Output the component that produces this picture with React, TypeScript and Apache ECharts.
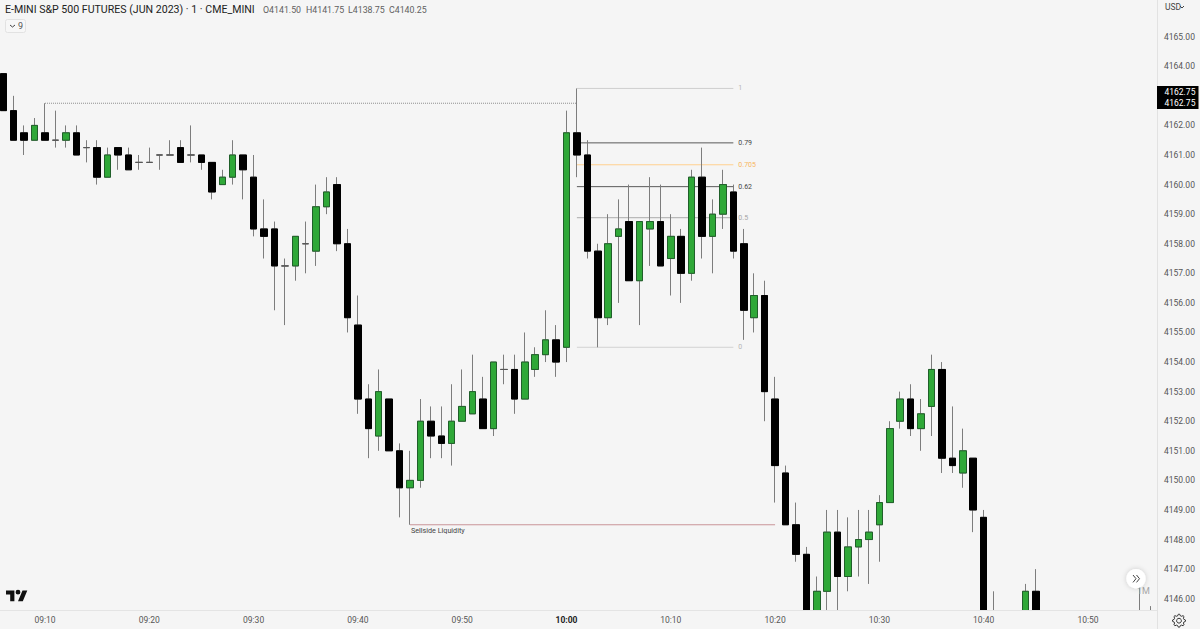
import React, { useEffect, useRef } from "react";
import * as echarts from "echarts";

const FONT = "Roboto";
const titleText = "E-MINI S&P 500 FUTURES (JUN 2023) · 1 · CME_MINI";
const ohlcLabels = ["O4141.50", "H4141.75", "L4138.75", "C4140.25"];
const ohlcX = [263, 306, 348, 389];

// minutes after 09:10
const minutes = [
  -4, -3, -2, -1, 0, 1, 2, 3, 4, 5, 6, 7, 8, 9, 10, 11, 12, 13, 14, 15, 16, 17, 18, 19,
  20, 21, 22, 23, 24, 25, 26, 27, 28, 29, 30, 31, 32, 33, 34, 35, 36, 37, 38, 39,
  40, 41, 42, 43, 44, 45, 46, 47, 48, 49, 50, 51, 52, 53, 54, 55, 56, 57, 58, 59,
  60, 61, 62, 63, 64, 65, 66, 67, 68, 69, 70, 71, 72, 73, 74, 75, 76, 77, 78, 79,
  80, 81, 82, 83, 84, 85, 86, 87, 88, 89, 90, 91, 94, 95, 105, 106,
];
const opens = [
  4163.75, 4162.5, 4161.75, 4161.5, 4161.75, 4161.5, 4161.5, 4161.75, 4161.25, 4161.25, 4160.25, 4161.25, 4161, 4160.75, 4160.75, 4161, 4161, 4161.25, 4161, 4161, 4160.75, 4160, 4160.25, 4161,
  4160.25, 4158.5, 4158.5, 4157.25, 4157.25, 4158, 4157.75, 4159.25, 4160, 4158, 4155.25, 4152.75, 4151.5, 4152.75, 4151, 4149.75, 4150, 4152, 4151.5, 4151.25,
  4152, 4152.25, 4152.75, 4151.75, 4153.75, 4153.75, 4152.75, 4153.75, 4154.25, 4154.75, 4154.5, 4161.75, 4161, 4157.75, 4155.5, 4158.25, 4158.75, 4156.75, 4158.5, 4158.75,
  4157.5, 4158.25, 4157, 4160.25, 4158.25, 4159, 4159.75, 4158, 4155.5, 4156.25, 4152.75, 4150.25, 4148.5, 4147.5, 4145.25, 4146.25, 4148.25, 4146.75, 4147.75, 4148,
  4148.5, 4149.25, 4152, 4152.75, 4151.75, 4152.5, 4153.75, 4150.75, 4150.25, 4150.75, 4148.75, 4145.5, 4145, 4146.25, 4145.25, 4145.25,
];
const closes = [
  4162.5, 4161.5, 4161.5, 4162, 4161.5, 4161.5, 4161.75, 4161, 4161.25, 4160.25, 4161, 4161, 4160.5, 4160.75, 4160.75, 4161, 4161, 4160.75, 4161, 4160.75, 4159.75, 4160.25, 4161, 4160.5,
  4158.5, 4158.25, 4157.25, 4157.25, 4158.25, 4158, 4159.25, 4159.75, 4158, 4155.5, 4152.75, 4151.75, 4153, 4151, 4149.75, 4150, 4152, 4151.5, 4151.25, 4152,
  4152.5, 4153, 4151.75, 4154, 4153.75, 4152.75, 4154, 4154.25, 4154.75, 4154, 4161.75, 4161, 4157.75, 4155.5, 4158, 4158.5, 4156.75, 4158.75, 4158.75, 4157.25,
  4158.25, 4157, 4160.25, 4158.25, 4159, 4160, 4157.75, 4155.75, 4156.25, 4153, 4150.5, 4148.5, 4147.5, 4145, 4146.25, 4148.25, 4146.75, 4147.75, 4148, 4148.25,
  4149.25, 4151.75, 4152.75, 4151.75, 4152.25, 4153.75, 4150.75, 4150.5, 4151, 4149, 4145, 4145.25, 4146.25, 4145, 4145.25, 4145.25,
];
const lows = [
  4162.5, 4161.5, 4161, 4161.5, 4161.5, 4161.25, 4161.25, 4161, 4160.75, 4160, 4160.25, 4160.5, 4160.5, 4160.5, 4160.75, 4160.5, 4161, 4160.75, 4160.75, 4160.5, 4159.5, 4160, 4160, 4159.5,
  4158.25, 4157.5, 4155.75, 4155.25, 4156.75, 4157, 4157.25, 4159, 4157.75, 4155, 4152.25, 4150.75, 4151, 4151, 4148.75, 4148.5, 4149.75, 4150.75, 4150.75, 4150.5,
  4152, 4152.25, 4151.75, 4151.5, 4153.25, 4152.25, 4152.75, 4153.5, 4154, 4153.5, 4154, 4160.25, 4157.5, 4154.5, 4155.25, 4156, 4156.75, 4155.25, 4157.25, 4157.25,
  4156.25, 4156, 4156.75, 4157.5, 4157, 4158.5, 4157.5, 4154.75, 4155, 4152, 4149.25, 4148.5, 4147.25, 4145, 4145, 4145.5, 4145.5, 4146.25, 4146.75, 4146.5,
  4147.25, 4149.25, 4151.75, 4151.5, 4151, 4151.5, 4150.25, 4150.25, 4149.75, 4148.25, 4145, 4145, 4145, 4145, 4145, 4145,
];
const highs = [
  4163.75, 4163, 4162, 4162.25, 4162.75, 4162.5, 4162, 4162, 4161.5, 4161.5, 4161.25, 4161.25, 4161.25, 4161, 4161.25, 4161, 4161.5, 4161.5, 4162, 4161, 4160.75, 4160.5, 4161.5, 4161,
  4161, 4159.5, 4158.75, 4157.5, 4158.25, 4158.75, 4160, 4160.25, 4160.25, 4158.5, 4156.25, 4153.25, 4153.75, 4152.75, 4151.25, 4151, 4152.75, 4152.5, 4152.5, 4153.25,
  4153.75, 4154.25, 4153.5, 4154, 4154.25, 4154.25, 4155, 4154.5, 4155.75, 4155.25, 4162.5, 4163.25, 4161.5, 4158, 4159, 4159.5, 4160, 4158.75, 4160.25, 4160,
  4159, 4158.5, 4160.5, 4161.25, 4159.5, 4160.5, 4160, 4158.5, 4157, 4156.75, 4153.5, 4150.5, 4149.25, 4147.75, 4146.75, 4149, 4149, 4148.75, 4149, 4149,
  4149.5, 4152, 4153, 4153.25, 4152.75, 4154.25, 4154, 4152.5, 4151.75, 4150.75, 4149, 4146.25, 4146.5, 4147, 4146.5, 4145.75,
];

const priceMin = 4145.618;
const priceMax = 4166.24;
const priceTicks = [4146, 4147, 4148, 4149, 4150, 4151, 4152, 4153, 4154, 4155, 4156, 4157, 4158, 4159, 4160, 4161, 4162, 4164, 4165];
const timeTicks = [0, 10, 20, 30, 40, 50, 60, 70, 80, 90, 100];
const timeLabels = ["09:10", "09:20", "09:30", "09:40", "09:50", "10:00", "10:10", "10:20", "10:30", "10:40", "10:50"];

const fibLevels = ["1", "0.79", "0.705", "0.62", "0.5", "0"];
const fibPrices = [4163.25, 4161.41, 4160.67, 4159.93, 4158.88, 4154.5];
const fibColors = ["#cfcfcf", "#5a5a5a", "#ffd08f", "#5a5a5a", "#ababab", "#d2d2d2"];
const fibLabelColors = ["#b5b5b5", "#444444", "#f7b660", "#444444", "#a5a5a5", "#b5b5b5"];
const fibStart = 51;
const fibEnd = 66;

const highLine = [[0, 4162.75], [51, 4162.75]];
const sellsideLine = [[35, 4148.5], [70, 4148.5]];

echarts.graphic.registerShape(
  "tvLogo",
  echarts.graphic.extendPath("M14 22H7V11H0V4h14v18zM28 22h-8l7.5-18h8L28 22zM20 3a4 4 0 1 1 0 8 4 4 0 0 1 0-8z", {})
);

const gearPoints = (cx: number, cy: number) => {
  const pts: number[][] = [];
  for (let i = 0; i < 32; i++) {
    const phase = i % 4;
    const r = phase < 2 ? 6.5 : 5;
    const a = ((i - 0.5) / 32) * Math.PI * 2;
    pts.push([cx + r * Math.cos(a), cy + r * Math.sin(a)]);
  }
  return pts;
};

// candlestick series are not clipped by the grid, so prices below the axis stop just under its edge,
// where a strip of background hides their end caps
const clampToAxis = (v: number) => Math.max(v, priceMin - 0.06);

export default function App() {
  const ref = useRef<HTMLDivElement>(null);
  useEffect(() => {
    const chart = echarts.init(ref.current!, null, { renderer: "svg" });
    const wickData = minutes.map((m, i) => [
      m, clampToAxis(opens[i]), clampToAxis(closes[i]), clampToAxis(lows[i]), highs[i],
    ]);
    const bodyData = minutes.map((m, i) => {
      const o = clampToAxis(opens[i]);
      const c = clampToAxis(closes[i]);
      return [m, o, c, Math.min(o, c), Math.max(o, c)];
    });
    const fibSeries = fibLevels.map((lvl, i) => ({
      type: "line",
      name: "fib " + lvl,
      data: [[fibStart, fibPrices[i]], [fibEnd, fibPrices[i]]],
      showSymbol: false,
      silent: true,
      z: 1,
      lineStyle: { color: fibColors[i], width: 1 },
      endLabel: {
        show: true,
        formatter: lvl,
        distance: 5,
        color: fibLabelColors[i],
        fontFamily: FONT,
        fontWeight: "normal",
        fontSize: 7,
      },
    }));
    chart.setOption({
      animation: false,
      backgroundColor: "#f5f5f5",
      textStyle: { fontFamily: FONT },
      title: {
        text: titleText,
        left: 5,
        top: 4,
        padding: 0,
        textStyle: { fontFamily: FONT, fontSize: 10.6, fontWeight: "normal", color: "#222222" },
      },
      grid: { left: 0, right: 43, top: 0, bottom: 19, containLabel: false },
      xAxis: {
        type: "value",
        min: -4.314,
        max: 106.62,
        splitLine: { show: false },
        axisTick: { show: false },
        axisLine: { show: true, onZero: false, lineStyle: { color: "#e2e2e2" } },
        axisLabel: {
          customValues: timeTicks,
          margin: 5,
          fontFamily: FONT,
          fontSize: 8.5,
          color: "#555555",
          hideOverlap: false,
          formatter: (v: number) => {
            const label = timeLabels[timeTicks.indexOf(v)] ?? "";
            return label === "10:00" ? `{bold|${label}}` : label;
          },
          rich: { bold: { fontFamily: FONT, fontSize: 8.5, fontWeight: "bold", color: "#222222" } },
        },
      },
      yAxis: {
        type: "value",
        position: "right",
        min: priceMin,
        max: priceMax,
        splitLine: { show: false },
        axisTick: { show: false },
        axisLine: { show: true, onZero: false, lineStyle: { color: "#e2e2e2" } },
        axisLabel: {
          customValues: priceTicks,
          margin: 7,
          fontFamily: FONT,
          fontSize: 8.5,
          color: "#555555",
          formatter: (v: number) => v.toFixed(2),
        },
      },
      series: [
        {
          type: "line",
          name: "high line",
          data: highLine,
          showSymbol: false,
          silent: true,
          z: 1,
          lineStyle: { color: "#8f8f8f", width: 1, type: [1, 1] },
        },
        {
          type: "line",
          name: "Sellside Liquidity",
          data: sellsideLine,
          showSymbol: false,
          silent: true,
          z: 1,
          lineStyle: { color: "#c99498", width: 1 },
        },
        ...fibSeries,
        {
          type: "candlestick",
          name: "wicks",
          data: wickData,
          encode: { x: 0, y: [1, 2, 3, 4] },
          barWidth: 7,
          z: 2,
          silent: true,
          itemStyle: {
            color: "#7d7d7d", color0: "#7d7d7d",
            borderColor: "#7d7d7d", borderColor0: "#7d7d7d", borderColorDoji: "#7d7d7d",
            borderWidth: 1,
          },
        },
        {
          type: "candlestick",
          name: "bodies",
          data: bodyData,
          encode: { x: 0, y: [1, 2, 3, 4] },
          barWidth: 7,
          z: 3,
          silent: true,
          itemStyle: {
            color: "#2fa838", color0: "#000000",
            borderColor: "#20602a", borderColor0: "#000000", borderColorDoji: "#555555",
            borderWidth: 1,
          },
        },
      ],
      graphic: [
        { type: "rect", z: 20, x: 0, y: 610, shape: { width: 1157, height: 1 }, style: { fill: "#e4e4e4" } },
        { type: "rect", z: 20, x: 0, y: 611, shape: { width: 1157, height: 3 }, style: { fill: "#f5f5f5" } },
        ...ohlcLabels.map((t, i) => ({
          type: "text", x: ohlcX[i], y: 5,
          style: { text: t, fontFamily: FONT, fontSize: 8.8, fill: "#606060" },
        })),
        { type: "rect", x: 5.5, y: 19.5, shape: { width: 20, height: 13, r: 2 }, style: { fill: "#f7f7f7", stroke: "#e2e2e2", lineWidth: 1 } },
        { type: "polyline", shape: { points: [[10, 25], [12.5, 27], [15, 25]] }, style: { stroke: "#444444", fill: "none", lineWidth: 1 } },
        { type: "text", x: 18, y: 21, style: { text: "9", fontFamily: FONT, fontSize: 9, fill: "#555555" } },
        { type: "text", x: 411, y: 527, style: { text: "Sellside Liquidity", fontFamily: FONT, fontSize: 7.2, fill: "#444444" } },
        { type: "tvLogo", x: 6, y: 588, scaleX: 0.6, scaleY: 0.6, style: { fill: "#111111" } },
        { type: "text", z: 20, x: 1137, y: 586, style: { text: "1M", fontFamily: FONT, fontSize: 9, fill: "#a5a5a5" } },
        { type: "circle", z: 21, shape: { cx: 1136, cy: 578.7, r: 9.7 }, style: { fill: "#ffffff", shadowBlur: 5, shadowColor: "rgba(0,0,0,0.18)" } },
        { type: "polyline", z: 22, shape: { points: [[1133, 575], [1136, 578.7], [1133, 582.4]] }, style: { stroke: "#444444", fill: "none", lineWidth: 1 } },
        { type: "polyline", z: 22, shape: { points: [[1136.5, 575], [1139.5, 578.7], [1136.5, 582.4]] }, style: { stroke: "#444444", fill: "none", lineWidth: 1 } },
        { type: "line", shape: { x1: 1157.5, y1: 610, x2: 1157.5, y2: 629 }, style: { stroke: "#e2e2e2", lineWidth: 1 } },
        { type: "text", x: 1165, y: 2, style: { text: "USD", fontFamily: FONT, fontSize: 8.5, fill: "#444444" } },
        { type: "polyline", shape: { points: [[1180, 6], [1182, 8], [1184, 6]] }, style: { stroke: "#444444", fill: "none", lineWidth: 1 } },
        { type: "rect", z: 5, x: 1157, y: 86, shape: { width: 41.5, height: 23 }, style: { fill: "#000000" } },
        { type: "text", z: 6, x: 1164.5, y: 87, style: { text: "4162.75", fontFamily: FONT, fontSize: 8.5, fill: "#ffffff" } },
        { type: "text", z: 6, x: 1164.5, y: 98.5, style: { text: "4162.75", fontFamily: FONT, fontSize: 8.5, fill: "#ffffff" } },
        { type: "polygon", shape: { points: gearPoints(1179, 620.7) }, style: { stroke: "#333333", fill: "none", lineWidth: 1 } },
        { type: "circle", shape: { cx: 1179, cy: 620.7, r: 2.4 }, style: { stroke: "#333333", fill: "none", lineWidth: 1 } },
      ],
    });
    return () => chart.dispose();
  }, []);
  return <div ref={ref} style={{ position: "fixed", left: 0, top: 0, width: 1200, height: 629 }} />;
}
